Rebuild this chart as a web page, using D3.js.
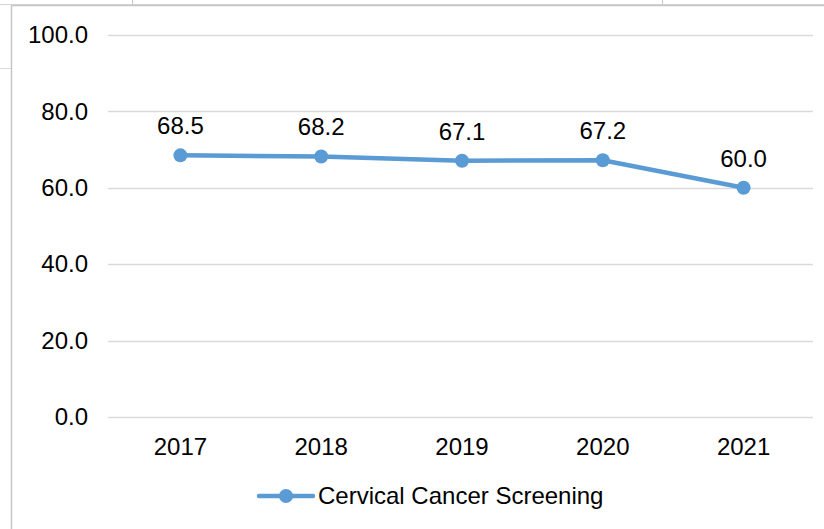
<!DOCTYPE html>
<html>
<head>
<meta charset="utf-8">
<script src="https://d3js.org/d3.v7.min.js"></script>
<style>
  html, body { margin: 0; padding: 0; background: #fff; }
  svg { display: block; font-family: "Liberation Sans", Arial, sans-serif; }
</style>
</head>
<body>
<svg width="824" height="529"></svg>
<script>
// chart data
var years = ["2017", "2018", "2019", "2020", "2021"];
var screening = [68.5, 68.2, 67.1, 67.2, 60.0];
var yTicks = [0, 20, 40, 60, 80, 100];
var seriesName = "Cervical Cancer Screening";

var svg = d3.select("svg");
var blue = "#5b9bd5";
var fs = 24;

// faint bits of the window behind the chart frame
svg.append("line").attr("x1", 0).attr("x2", 824).attr("y1", 4.5).attr("y2", 4.5)
  .attr("stroke", "#d4d4d4").attr("stroke-width", 1);
svg.append("line").attr("x1", 132.5).attr("x2", 132.5).attr("y1", 0).attr("y2", 5)
  .attr("stroke", "#c8c8c8");
svg.append("line").attr("x1", 662.5).attr("x2", 662.5).attr("y1", 0).attr("y2", 5)
  .attr("stroke", "#c8c8c8");
svg.append("line").attr("x1", 0).attr("x2", 11).attr("y1", 68.5).attr("y2", 68.5)
  .attr("stroke", "#dcdcdc");

// chart frame
svg.append("rect").attr("x", 11.5).attr("y", 5.5).attr("width", 830).attr("height", 540)
  .attr("fill", "#fff").attr("stroke", "#c6c6c6").attr("stroke-width", 1.5);

var x = d3.scaleBand().domain(years).range([110, 814]);
var y = d3.scaleLinear().domain([0, 100]).range([417, 35]);

// gridlines
svg.append("g").selectAll("line").data(yTicks).enter().append("line")
  .attr("x1", 108).attr("x2", 813)
  .attr("y1", function(d) { return Math.round(y(d)) + 0.5; })
  .attr("y2", function(d) { return Math.round(y(d)) + 0.5; })
  .attr("stroke", "#d9d9d9").attr("stroke-width", 1.5);

// y axis labels
var yAxis = svg.append("g").attr("transform", "translate(96,0)")
  .call(d3.axisLeft(y).tickValues(yTicks).tickSize(0).tickPadding(8)
    .tickFormat(function(d) { return d3.format(".1f")(d); }));
yAxis.select(".domain").remove();
yAxis.attr("font-size", fs).attr("font-family", "Liberation Sans, Arial, sans-serif");
yAxis.selectAll("text").attr("fill", "#000");

// x axis labels
var xAxis = svg.append("g").attr("transform", "translate(0,438)")
  .call(d3.axisBottom(x).tickSize(0).tickPadding(0));
xAxis.select(".domain").remove();
xAxis.attr("font-size", fs).attr("font-family", "Liberation Sans, Arial, sans-serif");
xAxis.selectAll("text").attr("fill", "#000");

var pts = years.map(function(yr, i) { return { year: yr, v: screening[i] }; });
var cx = function(d) { return x(d.year) + x.bandwidth() / 2; };

var line = d3.line().x(cx).y(function(d) { return y(d.v); });

svg.append("path").datum(pts)
  .attr("d", line)
  .attr("fill", "none").attr("stroke", blue).attr("stroke-width", 4.5)
  .attr("stroke-linejoin", "round").attr("stroke-linecap", "round");

svg.append("g").selectAll("circle").data(pts).enter().append("circle")
  .attr("cx", cx).attr("cy", function(d) { return y(d.v); })
  .attr("r", 7).attr("fill", blue);

// data labels
svg.append("g").selectAll("text").data(pts).enter().append("text")
  .attr("x", cx).attr("y", function(d) { return y(d.v) - 21; })
  .attr("text-anchor", "middle").attr("font-size", fs).attr("fill", "#000")
  .text(function(d) { return d3.format(".1f")(d.v); });

// legend
var lg = svg.append("g").attr("transform", "translate(259,496)");
lg.append("line").attr("x1", 0).attr("x2", 54).attr("y1", 0).attr("y2", 0)
  .attr("stroke", blue).attr("stroke-width", 4.5).attr("stroke-linecap", "round");
lg.append("circle").attr("cx", 27).attr("cy", 0).attr("r", 7).attr("fill", blue);
lg.append("text").attr("x", 59).attr("y", 0).attr("dy", "0.35em")
  .attr("font-size", fs).attr("fill", "#000").text(seriesName);
</script>
</body>
</html>
